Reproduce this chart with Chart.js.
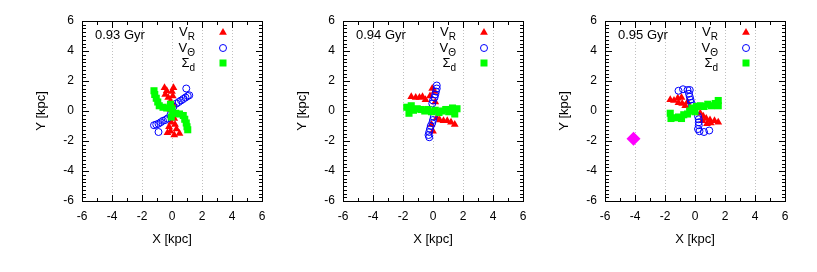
<!DOCTYPE html>
<html lang="en">
<head>
<meta charset="utf-8">
<title>disk snapshots</title>
<script src="https://cdn.jsdelivr.net/npm/chart.js@4"></script>
<style>
  html, body { margin: 0; background: #fff; }
  #wrap { position: relative; width: 817px; height: 272px; overflow: hidden; }
  canvas { position: absolute; top: 0; }
</style>
</head>
<body>
<div id="wrap">
  <canvas id="p1" width="270" height="272" style="left:0px;width:270px;height:272px"></canvas>
  <canvas id="p2" width="270" height="272" style="left:261px;width:270px;height:272px"></canvas>
  <canvas id="p3" width="270" height="272" style="left:523px;width:270px;height:272px"></canvas>
</div>

<script>
// axis ticks (same on X and Y)
const axisTicks = [-6, -4, -2, 0, 2, 4, 6];
const panelTimes = ['0.93 Gyr', '0.94 Gyr', '0.95 Gyr'];

// 0.93 Gyr
const vR093 = [[-0.5,1.55],[-0.35,1.35],[0.1,1.55],[0.0,1.3],[-0.45,1.1],[-0.25,0.9],[0.05,1.0],
  [-0.1,0.65],[0.1,0.4],[-0.1,0.1],[0.05,-0.2],[0.15,-0.5],[-0.05,-0.75],[0.2,-0.9],[-0.2,-1.05],
  [0.3,-1.2],[-0.1,-1.35],[0.5,-1.5],[0.15,-1.6],[-0.3,-1.45]];
const vT093 = [[-1.2,-0.95],[-1.05,-0.9],[-0.9,-0.85],[-0.75,-0.75],[-0.6,-0.65],[-0.45,-0.6],
  [-0.3,-0.5],[-0.9,-1.4],[-0.1,-0.25],[0.1,0.3],[0.3,0.5],[0.45,0.6],[0.6,0.7],[0.75,0.8],
  [0.9,0.9],[1.05,1.0],[1.15,1.05],[0.95,1.5]];
const sD093 = [[-1.2,1.35],[-1.15,1.1],[-1.05,0.85],[-0.95,0.6],[-0.85,0.35],[-0.6,0.25],
  [-0.35,0.2],[-0.1,0.45],[0,0.15],[0.05,-0.15],[-0.05,-0.4],[0.25,-0.15],[0.5,-0.2],
  [0.75,-0.3],[0.85,-0.55],[0.95,-0.8],[1.0,-1.05],[1.05,-1.25]];

// 0.94 Gyr
const vR094 = [[-1.45,0.95],[-1.15,0.9],[-0.9,0.9],[-0.7,0.95],[-0.5,0.75],[-0.2,1.0],[-0.05,1.5],
  [0.1,1.3],[0.15,0.6],[0.25,-0.45],[0.45,-0.6],[0.7,-0.65],[0.95,-0.65],[1.2,-0.75],[1.45,-0.9],
  [0.0,-1.35],[-0.1,-0.9]];
const vT094 = [[0.25,1.7],[0.25,1.5],[0.2,1.3],[0.15,1.1],[0.1,0.9],[0.0,0.7],[-0.05,0.5],
  [0.05,-0.4],[0.0,-0.6],[-0.05,-0.8],[-0.15,-1.0],[-0.2,-1.2],[-0.25,-1.4],[-0.3,-1.6],[-0.25,-1.75]];
const sD094 = [[-1.75,0.25],[-1.6,-0.15],[-1.45,0.35],[-1.3,0.05],[-1.05,0.15],[-0.8,0.1],
  [-0.55,0.0],[-0.35,0.1],[-0.1,-0.05],[0.15,0.05],[0.4,-0.1],[0.6,0.0],[0.85,0.1],[1.05,-0.05],
  [1.3,0.2],[1.45,-0.2],[1.6,0.15]];

// 0.95 Gyr
const vR095 = [[-1.65,0.75],[-1.4,0.7],[-1.15,0.85],[-0.9,0.9],[-1.1,0.55],[-0.85,0.5],[-0.65,0.35],
  [-0.5,0.6],[-0.35,0.25],[0.35,-0.15],[0.55,-0.35],[0.75,-0.5],[1.0,-0.6],[1.3,-0.65],[1.55,-0.75],
  [0.8,-0.85],[1.05,-0.8],[0.5,-0.65]];
const vT095 = [[-1.1,1.35],[-0.8,1.45],[-0.5,1.4],[-0.35,1.4],[-0.4,1.15],[-0.35,0.95],[-0.3,0.75],
  [-0.25,0.55],[-0.2,0.35],[0.2,-0.35],[0.25,-0.55],[0.25,-0.75],[0.25,-0.95],[0.2,-1.2],[0.3,-1.35],
  [0.6,-1.4],[0.95,-1.3]];
const sD095 = [[-1.65,-0.15],[-1.6,-0.5],[-1.35,-0.45],[-1.1,-0.4],[-0.9,-0.5],[-0.75,-0.25],
  [-0.5,-0.2],[-0.35,0.0],[-0.2,0.2],[0.0,-0.05],[0.1,0.3],[0.35,0.35],[0.6,0.3],[0.85,0.45],
  [1.1,0.35],[1.35,0.5],[1.55,0.7],[1.55,0.35]];
const extra095 = [[-4.1,-1.85]];

const FONT = '"Liberation Sans", Arial, sans-serif';

// frame with inward ticks, time label and legend
const framePlugin = {
    id: 'frame',
    afterDraw(chart, args, opts) {
        const ctx = chart.ctx;
        const a = chart.chartArea;
        const sx = chart.scales.x, sy = chart.scales.y;
        const L = Math.round(a.left), R = Math.round(a.right);
        const T = Math.round(a.top), B = Math.round(a.bottom);
        ctx.save();
        ctx.fillStyle = '#000000';
        ctx.fillRect(L, T, R - L + 1, 1);
        ctx.fillRect(L, B, R - L + 1, 1);
        ctx.fillRect(L, T, 1, B - T + 1);
        ctx.fillRect(R, T, 1, B - T + 1);
        for (let v = -6; v <= 6; v += 1) {
            const px = Math.round(sx.getPixelForValue(v));
            const len = v % 2 === 0 ? 6 : 3;
            ctx.fillRect(px, B - len, 1, len);
            ctx.fillRect(px, T + 1, 1, len);
        }
        for (let k = 0; k <= 48; k++) {
            const py = Math.round(sy.getPixelForValue(-6 + k * 0.25));
            const len = k % 8 === 0 ? 6 : 3;
            ctx.fillRect(L + 1, py, len, 1);
            ctx.fillRect(R - len, py, len, 1);
        }

        ctx.textBaseline = 'middle';
        ctx.textAlign = 'left';
        ctx.font = '13px ' + FONT;
        ctx.fillText(opts.label, a.left + 13, a.top + 14);

        const rows = [['V', 'R'], ['V', '\u0398'], ['\u03A3', 'd']];
        const rowY = [11.5, 27, 42];
        const right = a.left + 113;
        rows.forEach((row, i) => {
            ctx.font = '13px ' + FONT;
            const w1 = ctx.measureText(row[0]).width;
            ctx.font = '10px ' + FONT;
            const w2 = ctx.measureText(row[1]).width;
            const x0 = right - w1 - w2;
            ctx.font = '13px ' + FONT;
            ctx.fillText(row[0], x0, a.top + rowY[i]);
            ctx.font = '10px ' + FONT;
            ctx.fillText(row[1], x0 + w1, a.top + rowY[i] + 5);
        });
        const mx = a.left + 141;
        ctx.fillStyle = '#ff0000';
        ctx.beginPath();
        ctx.moveTo(mx, a.top + rowY[0] - 4.5);
        ctx.lineTo(mx + 3.9, a.top + rowY[0] + 2.25);
        ctx.lineTo(mx - 3.9, a.top + rowY[0] + 2.25);
        ctx.closePath();
        ctx.fill();
        ctx.strokeStyle = '#0000ff';
        ctx.lineWidth = 1;
        ctx.beginPath();
        ctx.arc(mx, a.top + rowY[1], 3.5, 0, Math.PI * 2);
        ctx.stroke();
        ctx.fillStyle = '#00ff00';
        ctx.fillRect(mx - 3.5, a.top + rowY[2] - 3.5, 7, 7);
        ctx.restore();
    }
};

function makePanel(id, label, vr, vt, sd, extra) {
    const datasets = [
        {data: sd, pointStyle: 'rect', pointRadius: 5, backgroundColor: '#00ff00', borderWidth: 0, order: 0},
        {data: vt, pointStyle: 'circle', pointRadius: 3.5, backgroundColor: 'rgba(0,0,0,0)', borderColor: '#0000ff', borderWidth: 1, order: 1},
        {data: vr, pointStyle: 'triangle', pointRadius: 4.5, backgroundColor: '#ff0000', borderWidth: 0, order: 2}
    ];
    if (extra) {
        datasets.push({data: extra, pointStyle: 'rectRot', pointRadius: 7, backgroundColor: '#ff00ff', borderWidth: 0, order: 3});
    }
    const tickFont = {family: FONT, size: 12};
    const titleFont = {family: FONT, size: 13};
    return new Chart(document.getElementById(id), {
        type: 'scatter',
        data: {datasets: datasets},
        options: {
            responsive: false,
            animation: false,
            events: [],
            layout: {padding: {left: 0, right: 8, top: 21, bottom: 0}},
            plugins: {legend: {display: false}, tooltip: {enabled: false}, frame: {label: label}},
            scales: {
                x: {
                    type: 'linear', min: -6, max: 6,
                    afterBuildTicks: s => { s.ticks = axisTicks.map(v => ({value: v})); },
                    afterFit: s => { s.height = 71; s.paddingLeft = 0; s.paddingRight = 0; },
                    ticks: {font: tickFont, color: '#000', padding: 8, maxRotation: 0},
                    grid: {color: '#c0c0c0', lineWidth: 1, drawTicks: false},
                    border: {display: false, dash: [1, 2]},
                    title: {display: true, text: 'X [kpc]', font: titleFont, color: '#000', padding: {bottom: 25}}
                },
                y: {
                    type: 'linear', min: -6, max: 6,
                    afterBuildTicks: s => { s.ticks = axisTicks.map(v => ({value: v})); },
                    afterFit: s => { s.width = 82; s.paddingTop = 0; s.paddingBottom = 0; },
                    ticks: {font: tickFont, color: '#000', padding: 8},
                    grid: {display: false, drawTicks: false},
                    border: {display: false},
                    title: {display: true, text: 'Y [kpc]', font: titleFont, color: '#000', padding: {top: 34}}
                }
            }
        },
        plugins: [framePlugin]
    });
}

makePanel('p1', panelTimes[0], vR093, vT093, sD093);
makePanel('p2', panelTimes[1], vR094, vT094, sD094);
makePanel('p3', panelTimes[2], vR095, vT095, sD095, extra095);
</script>
</body>
</html>
